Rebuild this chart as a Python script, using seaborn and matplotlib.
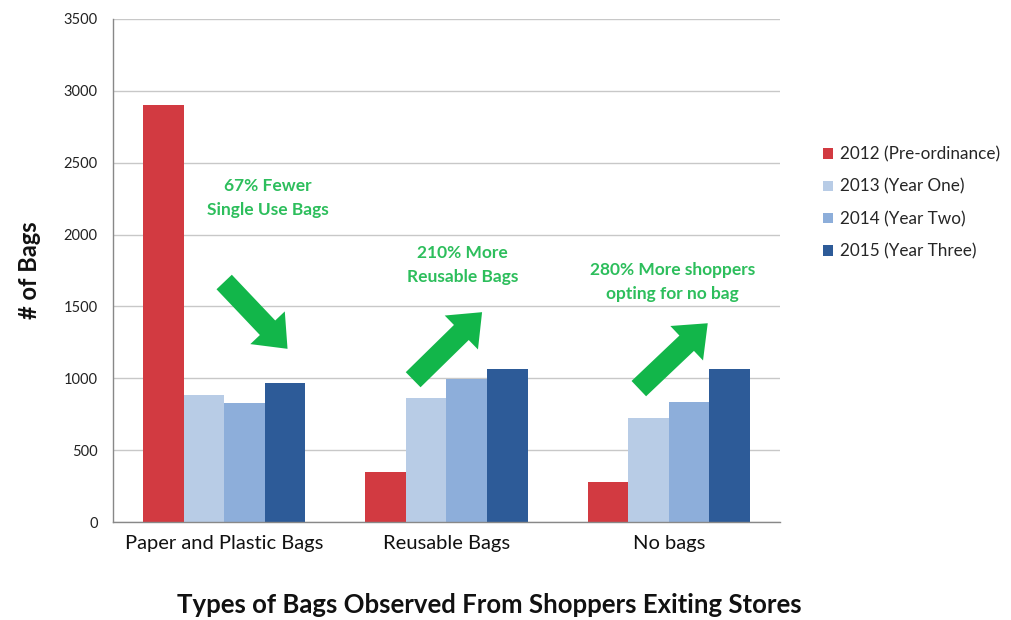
import matplotlib
matplotlib.use("Agg")
import matplotlib.pyplot as plt
import seaborn as sns
import pandas as pd

categories = ["Paper and Plastic Bags", "Reusable Bags", "No bags"]
series = ["2012 (Pre-ordinance)", "2013 (Year One)", "2014 (Year Two)", "2015 (Year Three)"]
v2012 = [2900, 345, 280]
v2013 = [885, 860, 722]
v2014 = [830, 996, 836]
v2015 = [970, 1067, 1067]
colors = ["#D23A41", "#B8CCE6", "#8DAEDA", "#2D5B98"]
yticks = [0, 500, 1000, 1500, 2000, 2500, 3000, 3500]

sns.set_style("white")
plt.rcParams['font.family'] = ['Lato', 'DejaVu Sans']

rows = []
for s, vals in zip(series, [v2012, v2013, v2014, v2015]):
    for c, v in zip(categories, vals):
        rows.append({"cat": c, "series": s, "val": v})
df = pd.DataFrame(rows)

fig = plt.figure(figsize=(10.12, 6.2), dpi=100)
ax = fig.add_axes([113/1012, 1-522/620, (780-113)/1012, (522-19)/620])

sns.barplot(data=df, x="cat", y="val", hue="series", order=categories,
            hue_order=series, palette=colors, width=0.73, gap=0,
            saturation=1, ax=ax, legend=False, edgecolor="none")

ax.set_ylim(0, 3500)
ax.set_xlim(-0.5, 2.5)
ax.set_yticks(yticks)
ax.set_yticklabels([str(t) for t in yticks], fontsize=10.5, color="#222222")
ax.yaxis.grid(True, color="#C8C8C8", linewidth=1)
ax.set_axisbelow(True)
ax.set_xlabel("")
ax.set_ylabel("")
ax.tick_params(axis="x", which="major", length=0, labelsize=14.5, pad=9, colors="#111111")
ax.set_xticks([-0.5, 0.5, 1.5, 2.5], minor=True)
ax.tick_params(axis="x", which="minor", length=6, color="#888888", direction="out")
ax.tick_params(axis="y", which="major", length=5, color="#888888", direction="out", pad=6)
for sp in ["top", "right"]:
    ax.spines[sp].set_visible(False)
for sp in ["left", "bottom"]:
    ax.spines[sp].set_color("#888888")
    ax.spines[sp].set_linewidth(1)

# Legend
from matplotlib.patches import Patch
handles = [Patch(facecolor=c, edgecolor="none") for c in colors]
leg = fig.legend(handles, series, loc="center left",
                 bbox_to_anchor=(808/1012, 1-203/620), frameon=False,
                 fontsize=12.3, handlelength=0.55, handleheight=0.55,
                 handletextpad=0.4, labelspacing=0.95)

# Annotations
green_text = "#2DBE5C"
green_arrow = "#12B64A"
ax.text(0.198, 2255, "67% Fewer\nSingle Use Bags", ha="center", va="center",
        fontsize=12.5, fontweight="bold", color=green_text, linespacing=1.6)
ax.text(1.072, 1788, "210% More\nReusable Bags", ha="center", va="center",
        fontsize=12.5, fontweight="bold", color=green_text, linespacing=1.6)
ax.text(2.018, 1670, "280% More shoppers\nopting for no bag", ha="center", va="center",
        fontsize=12.5, fontweight="bold", color=green_text, linespacing=1.6)

astyle = "simple,head_length=1.1,head_width=1.8,tail_width=0.8"
for (x0, y0), (x1, y1) in [((0.0, 1670), (0.285, 1205)),
                           ((0.85, 990), (1.16, 1460)),
                           ((1.865, 928), (2.175, 1383))]:
    ax.annotate("", xy=(x1, y1), xytext=(x0, y0),
                arrowprops=dict(arrowstyle=astyle, mutation_scale=19,
                                color=green_arrow, shrinkA=0, shrinkB=0, lw=0))

fig.text(30/1012, 1-270/620, "# of Bags", rotation=90, ha="center", va="center",
         fontsize=17, fontweight="bold", color="#111111")
fig.text(489/1012, 1-605/620, "Types of Bags Observed From Shoppers Exiting Stores",
         ha="center", va="center", fontsize=18.5, fontweight="bold", color="#111111")

fig.savefig("out.png", dpi=100)
